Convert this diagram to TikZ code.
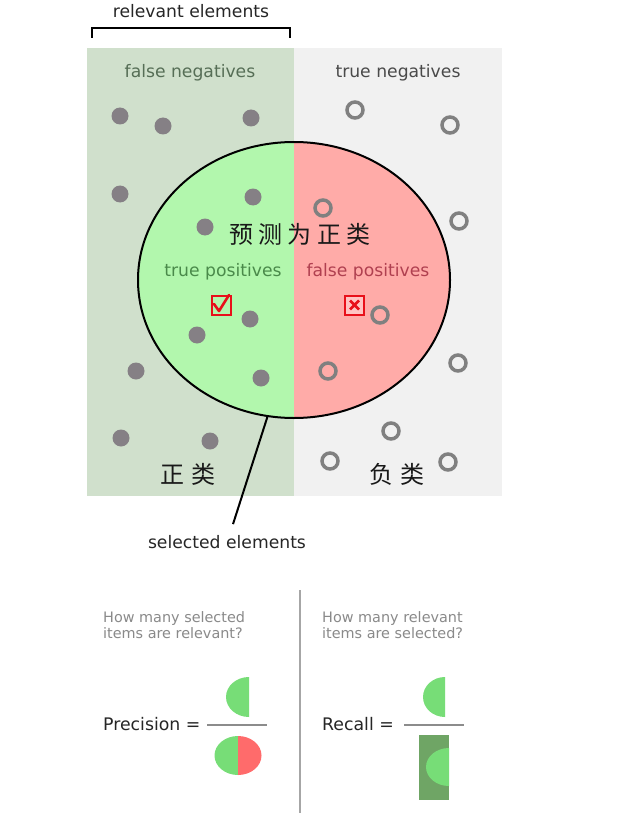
\documentclass[tikz,border=0pt]{standalone}
\usepackage{fontspec}
\setmainfont{DejaVu Sans}
\newfontfamily\cjk{Noto Sans CJK SC}
\usetikzlibrary{shapes.geometric}
\definecolor{fnbg}{HTML}{D0E0CC}
\definecolor{tnbg}{HTML}{F1F1F1}
\definecolor{tpfill}{HTML}{B2F7AD}
\definecolor{fpfill}{HTML}{FFABA8}
\definecolor{dotc}{HTML}{858085}
\definecolor{ringc}{HTML}{808080}
\definecolor{fntext}{HTML}{566E56}
\definecolor{tntext}{HTML}{4A4A4A}
\definecolor{tptext}{HTML}{4A8A4A}
\definecolor{fptext}{HTML}{B04050}
\definecolor{qtext}{HTML}{8A8A8A}
\definecolor{hgreen}{HTML}{77DD77}
\definecolor{hred}{HTML}{FF6B6B}
\definecolor{dgreen}{HTML}{6FA565}
\definecolor{boxred}{HTML}{E8101A}
\begin{document}
\begin{tikzpicture}[x=1pt,y=-1pt,
  lbl/.style={font=\fontsize{17.2}{20}\selectfont, inner sep=1pt},
  biglbl/.style={font=\fontsize{17.3}{20}\selectfont, inner sep=1pt, text=black!85, anchor=west},
  qlbl/.style={font=\fontsize{14.4}{16}\selectfont, text=qtext, align=left, inner sep=0pt, anchor=north west},
  cjklbl/.style={font=\cjk\fontsize{24}{27}\selectfont, text=black!90, inner sep=0pt},
  dot/.style={fill=dotc},
  ring/.style={draw=ringc, line width=3.5pt},
  markbox/.style={draw=boxred, line width=2pt, minimum size=19pt, inner sep=0pt},
  boxmark/.style={draw=boxred, line width=2.6pt}]
\useasboundingbox (0,0) rectangle (637,813);
\fill[white] (0,0) rectangle (637,813);
% background halves
\fill[fnbg] (87,48) rectangle (294,496);
\fill[tnbg] (294,48) rectangle (502,496);
% relevant bracket
\node[lbl, text=black!85] (rel) at (191,11) {relevant elements};
\draw[line width=1.8pt] (92,38) -- (92,28) -- (290,28) -- (290,38);
\node[lbl, text=fntext] (fn) at (190,73) {false negatives};
\node[lbl, text=tntext] (tn) at (398,73) {true negatives};
% selected ellipse
\node[ellipse, draw=black, line width=2pt, minimum width=312pt, minimum height=276pt, inner sep=0pt,
  path picture={
    \fill[tpfill] (path picture bounding box.south west) rectangle (path picture bounding box.north);
    \fill[fpfill] (path picture bounding box.north) rectangle (path picture bounding box.south east);
  }] (sel) at (294,280) {};
% filled dots (relevant)
\foreach \p in {(120,116),(163,126),(251,118),(120,194),(253,197),(205,227),(250,319),(197,335),(136,371),(261,378),(121,438),(210,441)}
  \fill[dot] \p circle[radius=8.5pt];
% rings (not relevant)
\foreach \p in {(355,110),(450,125),(323,208),(459,221),(380,315),(328,371),(458,363),(391,431),(330,461),(448,462)}
  \draw[ring] \p circle[radius=8pt];
% labels inside
\node[cjklbl] (pred) at (300,234) {预\kern5.5pt 测\kern5.5pt 为\kern5.5pt 正\kern5.5pt 类};
\node[lbl, text=tptext] (tp) at (223,272) {true positives};
\node[lbl, text=fptext] (fp) at (368,272) {false positives};
\node[markbox] (chk) at (221,305) {};
\draw[boxmark, line cap=round, line join=round] (214,304) -- (219,311) -- (229,295);
\node[markbox, fill=fpfill!70!white] (crs) at (354.5,305) {};
\draw[boxmark] (350,300.5) -- (359,309.5) (350,309.5) -- (359,300.5);
\node[cjklbl] (pos) at (188,474) {正\kern7pt 类};
\node[cjklbl] (neg) at (397,474) {负\kern7pt 类};
% selected elements pointer
\node[lbl, text=black!85] (selbl) at (227,542) {selected elements};
\draw[line width=2pt] (sel.-101.5) -- ([xshift=6pt,yshift=10pt]selbl.north);
% separator
\draw[line width=2pt, draw=black!35] (300,590) -- (300,813);
% questions
\node[qlbl] (q1) at (103,611) {How many selected\\[0pt]items are relevant?};
\node[qlbl] (q2) at (322,611) {How many relevant\\[0pt]items are selected?};
% precision
\node[biglbl] (prec) at (102,724) {Precision =};
\draw[line width=2.5pt, draw=black!45] (207,725) -- (267,725);
\begin{scope}
  \clip (220,670) rectangle (249,720);
  \fill[hgreen] (249,697) ellipse [x radius=23pt, y radius=20pt];
\end{scope}
\begin{scope}
  \clip (210,730) rectangle (238,780);
  \fill[hgreen] (238,755.5) ellipse [x radius=23.5pt, y radius=19.5pt];
\end{scope}
\begin{scope}
  \clip (238,730) rectangle (266,780);
  \fill[hred] (238,755.5) ellipse [x radius=23.5pt, y radius=19.5pt];
\end{scope}
% recall
\node[biglbl] (rec) at (321,724) {Recall =};
\draw[line width=2.5pt, draw=black!45] (404,725) -- (464,725);
\begin{scope}
  \clip (415,670) rectangle (445,720);
  \fill[hgreen] (445,697) ellipse [x radius=22pt, y radius=20pt];
\end{scope}
\fill[dgreen] (419,735) rectangle (449,800);
\begin{scope}
  \clip (419,735) rectangle (449,800);
  \fill[hgreen] (449,767) ellipse [x radius=23pt, y radius=19pt];
\end{scope}
\end{tikzpicture}
\end{document}
